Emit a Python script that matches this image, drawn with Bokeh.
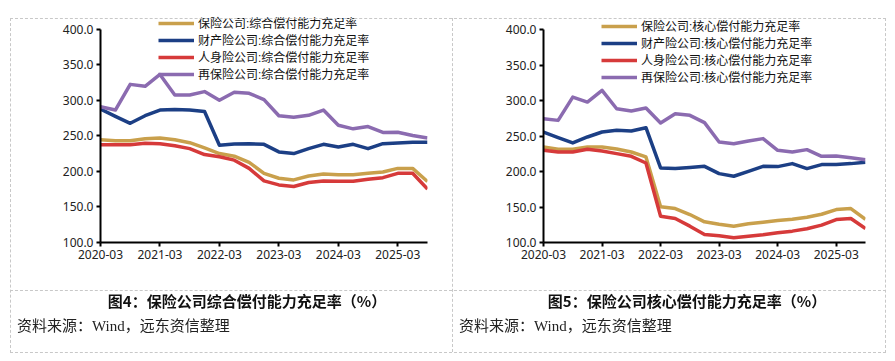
from bokeh.plotting import figure
from bokeh.models import (ColumnDataSource, FixedTicker, Legend, LegendItem, Div,
                          NumeralTickFormatter)
from bokeh.layouts import row, column
from bokeh.embed import file_html
from bokeh.resources import INLINE

quarters = ["2020-03", "2020-06", "2020-09", "2020-12",
            "2021-03", "2021-06", "2021-09", "2021-12",
            "2022-03", "2022-06", "2022-09", "2022-12",
            "2023-03", "2023-06", "2023-09", "2023-12",
            "2024-03", "2024-06", "2024-09", "2024-12",
            "2025-03", "2025-06", "2025-09"]
tick_labels = ["2020-03", "2021-03", "2022-03", "2023-03", "2024-03", "2025-03"]
y_ticks = [100, 150, 200, 250, 300, 350, 400]

# 综合偿付能力充足率 (%)
comp_all = [244.7, 243.3, 243.3, 246.1, 247.0, 244.7, 240.5, 233.1, 225.2, 221.5, 212.7, 197.4,
            190.4, 188.1, 193.7, 196.4, 195.5, 195.5, 197.4, 199.2, 204.3, 204.3, 185.8]
comp_prop = [287.8, 277.6, 267.8, 278.5, 286.4, 287.3, 286.4, 284.5, 236.8, 238.6, 239.1, 238.2,
             227.5, 225.2, 232.1, 238.2, 234.5, 238.2, 232.1, 239.1, 240.0, 241.0, 241.0]
comp_life = [237.7, 237.7, 237.7, 239.6, 239.1, 236.3, 232.1, 223.8, 220.6, 215.9, 204.3, 186.7,
             181.1, 178.8, 184.4, 186.7, 186.2, 186.2, 189.0, 191.3, 197.4, 197.4, 175.1]
comp_re = [291.0, 286.4, 322.6, 319.8, 336.5, 307.7, 307.7, 312.4, 300.3, 311.4, 310.0, 301.2,
           278.5, 276.2, 279.0, 286.4, 265.1, 260.0, 263.2, 254.9, 255.3, 250.7, 247.0]

# 核心偿付能力充足率 (%)
core_all = [234.5, 231.3, 231.3, 234.5, 234.5, 231.7, 227.5, 220.5, 150.2, 147.8, 139.4, 129.1,
            125.8, 123.0, 126.3, 128.6, 131.0, 132.8, 135.6, 139.8, 146.4, 147.8, 132.8]
core_prop = [255.6, 247.7, 240.2, 248.6, 255.6, 258.0, 257.0, 261.7, 205.0, 204.1, 205.5, 207.3,
             197.0, 193.3, 200.3, 207.3, 206.9, 211.1, 204.1, 209.7, 209.7, 211.1, 213.0]
core_life = [229.8, 227.5, 227.5, 231.3, 228.9, 225.2, 221.4, 212.0, 137.0, 133.8, 123.0, 111.3,
             109.4, 106.6, 108.9, 110.8, 113.6, 116.0, 119.3, 124.4, 132.3, 133.8, 119.7]
core_re = [274.4, 272.0, 304.8, 297.8, 314.2, 288.4, 285.2, 289.4, 268.3, 281.4, 279.1, 268.8,
           241.6, 239.2, 243.0, 246.3, 229.8, 227.5, 230.8, 221.4, 221.9, 219.5, 216.7]

names_comp = ["保险公司:综合偿付能力充足率", "财产险公司:综合偿付能力充足率",
              "人身险公司:综合偿付能力充足率", "再保险公司:综合偿付能力充足率"]
names_core = ["保险公司:核心偿付能力充足率", "财产险公司:核心偿付能力充足率",
              "人身险公司:核心偿付能力充足率", "再保险公司:核心偿付能力充足率"]
colors = ["#C9A04C", "#1C3F85", "#D63A3A", "#8B6BB0"]

BORDER_COLOR = "#c8c8c8"
BORDER = "1px dashed " + BORDER_COLOR


def make_chart(series, names, width, height, mb_left, mb_right, mb_top, mb_bottom,
               axis_px, extra_px, leg_x, leg_y):
    # the frame is extended upward by extra_px pixels above the 400 tick so that
    # the legend (clipped to the frame) can sit above the plot area
    y_top = 400 + extra_px * 300.0 / axis_px
    idx = list(range(len(quarters)))
    p = figure(width=width, height=height, output_backend="svg", toolbar_location=None,
               x_range=(0, len(quarters) - 1), y_range=(100, y_top),
               min_border_left=mb_left, min_border_right=mb_right,
               min_border_top=mb_top, min_border_bottom=mb_bottom)
    p.outline_line_color = None
    p.background_fill_color = None
    p.border_fill_color = None
    p.grid.visible = False
    items = []
    for vals, name, col in zip(series, names, colors):
        src = ColumnDataSource(dict(x=idx, y=vals))
        rr = p.line("x", "y", source=src, line_color=col, line_width=3.5, line_join="round")
        items.append(LegendItem(label=name, renderers=[rr]))
    for ax in (p.xaxis[0], p.yaxis[0]):
        ax.axis_line_color = "black"
        ax.axis_line_width = 2
        ax.major_tick_line_color = "black"
        ax.major_tick_line_width = 2
        ax.major_tick_in = 0
        ax.major_tick_out = 4
        ax.minor_tick_line_color = None
        ax.major_label_text_font = "Noto Sans"
        ax.major_label_text_font_size = "12px"
        ax.major_label_text_color = "#222222"
    p.xaxis.ticker = FixedTicker(ticks=[quarters.index(t) for t in tick_labels])
    p.xaxis.major_label_overrides = {quarters.index(t): t for t in tick_labels}
    p.xaxis.major_label_standoff = 3
    p.yaxis.ticker = FixedTicker(ticks=y_ticks)
    p.yaxis.bounds = (y_ticks[0], y_ticks[-1])
    p.yaxis.formatter = NumeralTickFormatter(format="0.0")
    p.yaxis.major_label_standoff = 3
    leg = Legend(items=items, location=(leg_x, leg_y))
    leg.background_fill_alpha = 0
    leg.border_line_color = None
    leg.padding = 0
    leg.margin = 0
    leg.spacing = 0
    leg.glyph_width = 36
    leg.glyph_height = 16
    leg.label_height = 16
    leg.label_standoff = 4
    leg.label_text_font = "'Liberation Sans', 'Noto Sans CJK SC', sans-serif"
    leg.label_text_font_size = "12px"
    leg.label_text_line_height = 1.0
    leg.label_text_color = "#111111"
    p.add_layout(leg, "center")
    return p


# left cell: page x 0..453, y 0..290 ; 400 at y=28, 100 at y=243
left = make_chart([comp_all, comp_prop, comp_life, comp_re], names_comp,
                  453, 290, 100, 26, 14, 47, 215, 14, 58, 160)
# right cell: page x 453..886 ; 400 at y=29, 100 at y=242
right = make_chart([core_all, core_prop, core_life, core_re], names_core,
                   433, 290, 90, 21, 15, 48, 213, 14, 58, 157)

cap_font = "font-family:'Noto Sans CJK SC',sans-serif;font-weight:bold;font-size:15px;color:#111;"
src_font = "font-family:'Liberation Serif','Noto Sans CJK SC',serif;font-size:15px;color:#222;"
html = (
    '<div style="position:relative;width:886px;height:63px;">'
    # fixed-position table borders (whole table: x 10..886, y 18..352)
    + '<div style="position:fixed;left:10px;top:18px;width:876px;height:335px;box-sizing:border-box;border:%s;pointer-events:none;"></div>' % BORDER
    + '<div style="position:fixed;left:452px;top:18px;width:0;height:334px;border-left:%s;pointer-events:none;"></div>' % BORDER
    + '<div style="position:fixed;left:10px;top:290px;width:876px;height:0;border-top:%s;pointer-events:none;"></div>' % BORDER
    + '<div style="position:absolute;left:32px;top:-4px;width:420px;text-align:center;line-height:20px;white-space:nowrap;%s">图4：保险公司综合偿付能力充足率（%%）</div>' % cap_font
    + '<div style="position:absolute;left:472px;top:-4px;width:420px;text-align:center;line-height:20px;white-space:nowrap;%s">图5：保险公司核心偿付能力充足率（%%）</div>' % cap_font
    + '<div style="position:absolute;left:12px;top:21px;line-height:20px;white-space:nowrap;%s">资料来源：Wind，远东资信整理</div>' % src_font
    + '<div style="position:absolute;left:454px;top:21px;line-height:20px;white-space:nowrap;%s">资料来源：Wind，远东资信整理</div>' % src_font
    + '</div>'
)
cap = Div(text=html, width=886, height=63)

layout = column(row(left, right), cap)

open("out.html", "w").write(file_html(layout, INLINE))
